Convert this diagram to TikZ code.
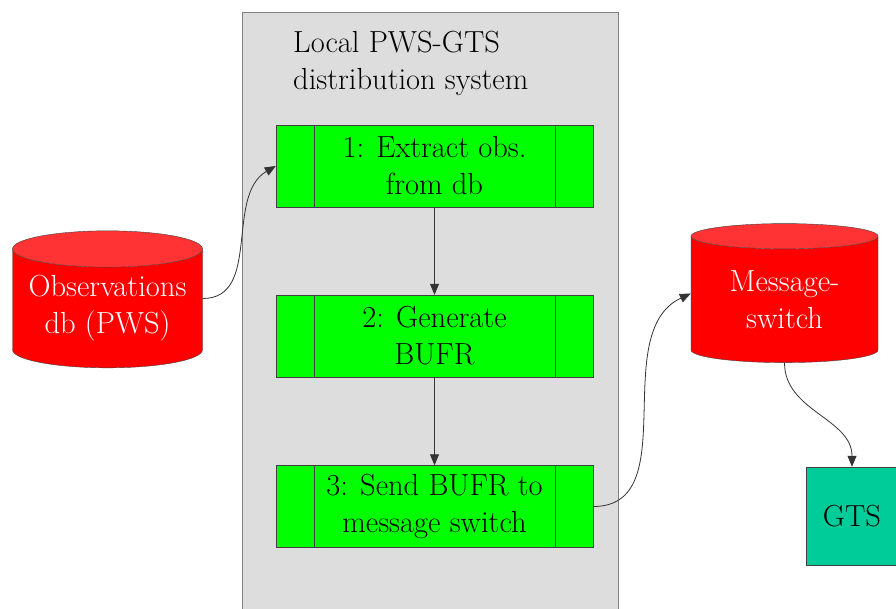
\documentclass[tikz,border=0pt]{standalone}
\usetikzlibrary{shapes.geometric,arrows.meta}
\definecolor{procgreen}{RGB}{0,255,0}
\definecolor{dbred}{RGB}{255,0,0}
\definecolor{gtsteal}{RGB}{0,204,153}
\definecolor{panelgray}{RGB}{221,221,221}

\begin{document}
\begin{tikzpicture}[x=1pt,y=-1pt,>={Triangle[length=11pt,width=9pt]}]
\tikzset{
  txt/.style={font=\fontsize{30.5}{37}\selectfont,align=center,inner sep=0pt},
  proc/.style={txt,draw=black!75,fill=procgreen,minimum width=317pt,minimum height=82pt,
    path picture={
      \draw[black!75] ([xshift=38pt]path picture bounding box.north west) -- ([xshift=38pt]path picture bounding box.south west);
      \draw[black!75] ([xshift=-38pt]path picture bounding box.north east) -- ([xshift=-38pt]path picture bounding box.south east);
    }},
  db/.style={txt,cylinder,shape border rotate=90,draw=black!75,text=white,aspect=0.23,
    cylinder uses custom fill,cylinder body fill=dbred,cylinder end fill=dbred!80!white},
  arr/.style={->,draw=black!80,line width=.8pt}
}
\useasboundingbox (0,0) rectangle (896,608);
% container
\node[draw=black!50,fill=panelgray,minimum width=376pt,minimum height=620pt,anchor=north west,inner sep=0pt,line width=1pt] (panel) at (242,12) {};
\node[txt,align=left,anchor=north west] (title) at (293,31) {Local PWS-GTS\\distribution system};
% steps
\node[proc] (extract) at (434.5,166) {1: Extract obs.\\from db};
\node[proc] (generate) at (434.5,336) {2: Generate\\BUFR};
\node[proc] (send) at (434.5,506.5) {3: Send BUFR to\\message switch};
% databases
\node[db,minimum width=190pt,minimum height=137pt] (obs) at (107.5,308.5) {Observations\\db (PWS)};
\node[db,minimum width=187pt,minimum height=139pt] (msw) at (784.5,299.5) {Message-\\switch};
\node[txt,draw=black!75,fill=gtsteal,minimum width=92pt,minimum height=98pt] (gts) at (852,516) {GTS};
% connectors
\draw[arr] ([yshift=10pt]obs.east) to[out=0,in=210] (extract.west);
\draw[arr] (extract) -- (generate);
\draw[arr] (generate) -- (send);
\draw[arr] (send.east) to[out=0,in=205] ([yshift=6pt]msw.west);
\draw[arr] (msw.south) to[out=-90,in=90] (gts.north);
\end{tikzpicture}
\end{document}
